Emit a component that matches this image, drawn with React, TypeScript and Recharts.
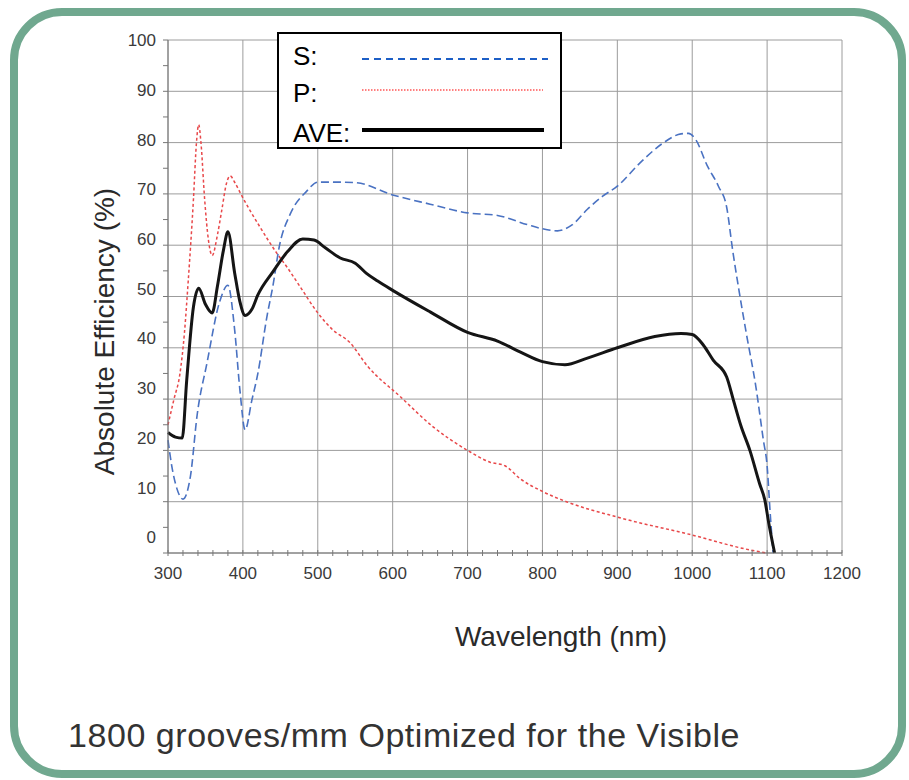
import { LineChart, Line, XAxis, YAxis, CartesianGrid, Legend, Label } from 'recharts';

const W = 909;
const H = 780;

// S polarisation
const sNm = [300, 305, 312, 320, 330, 339, 352, 369, 380, 389, 396, 403, 412, 420, 432, 440, 449, 463, 485, 500, 520, 550, 600, 650, 700, 740, 780, 800, 820, 840, 860, 880, 900, 930, 960, 985, 995, 1005, 1020, 1035, 1046, 1054, 1063, 1072, 1085, 1095, 1100, 1104, 1108];
const sEff = [22, 17, 12.5, 10.5, 15, 27, 37, 49, 52.2, 43.5, 31.8, 24, 29.8, 35, 46, 52, 60, 66, 70.5, 72.3, 72.3, 72.2, 69.8, 68, 66.3, 65.8, 64, 63.2, 62.8, 64, 67, 69.5, 71.5, 76, 79.8, 81.7, 81.8, 80.5, 75.5, 71.5, 67.4, 59, 50.7, 43, 32.4, 22, 17, 8, 0];

// P polarisation
const pNm = [300, 308, 316, 322, 327, 334, 338, 341, 344, 349, 354, 359, 366, 372, 378, 383, 390, 399, 423, 445, 460, 476, 499, 520, 543, 566, 610, 654, 700, 730, 750, 770, 800, 832, 900, 1000, 1077, 1100];
const pEff = [25, 30, 35, 43, 53, 69, 80, 83.5, 80, 68.8, 61, 58, 62, 67, 72, 73.5, 72, 69.5, 63.5, 58.5, 55.5, 52, 47, 43.5, 41, 36.5, 30.5, 24.6, 20, 17.7, 17, 14.5, 12, 10, 7, 3.5, 0.6, 0];

// average of S and P
const aveNm = [300, 310, 319, 325, 334, 341, 350, 359, 366, 374, 380, 389, 396, 403, 412, 420, 440, 460, 480, 495, 510, 530, 550, 565, 580, 600, 650, 700, 740, 770, 800, 830, 860, 900, 950, 985, 1000, 1015, 1028, 1046, 1055, 1065, 1077, 1090, 1097, 1102, 1110];
const aveEff = [23.5, 22.6, 22.4, 33.7, 48, 51.6, 48.5, 46.8, 52, 59, 62.6, 54.6, 49, 46.3, 47.5, 50.3, 54.8, 58.8, 61.2, 61, 59.5, 57.5, 56.5, 54.5, 53, 51.2, 47, 43, 41.3, 39.2, 37.3, 36.7, 38, 40, 42.2, 42.8, 42.6, 40.5, 37.6, 34.3, 29.8, 24.8, 20, 13.5, 10.3, 6, 0];

const xMajor = [300, 400, 500, 600, 700, 800, 900, 1000, 1100, 1200];
const yMajor = [0, 10, 20, 30, 40, 50, 60, 70, 80, 90, 100];
const xTicks = Array.from({ length: 46 }, (_, i) => 300 + i * 20);
const yTicks = Array.from({ length: 21 }, (_, i) => i * 5);

const toPoints = (nm: number[], eff: number[]) => nm.map((w, i) => ({ nm: w, eff: eff[i] }));
const sPoints = toPoints(sNm, sEff);
const pPoints = toPoints(pNm, pEff);
const avePoints = toPoints(aveNm, aveEff);

const FONT = '"Liberation Sans", Arial, Helvetica, sans-serif';
const AXIS = '#777';
const GRID = '#9c9c9c';
const LABEL_DRIFT = 0.158; // y labels creep upward toward the origin

function XTick({ x, y, payload }: any) {
  const v = payload.value;
  return (
    <g>
      <line x1={x} x2={x} y1={y - 3} y2={y + 3} stroke={AXIS} />
      {v % 100 === 0 && (
        <text x={x} y={y + 26} textAnchor="middle" fontSize={17} fill="#3a3a3a" fontFamily={FONT}>
          {v}
        </text>
      )}
    </g>
  );
}

function YTick({ x, y, payload }: any) {
  const v = payload.value;
  return (
    <g>
      <line x1={x - 5} x2={x} y1={y} y2={y} stroke={AXIS} />
      {v % 10 === 0 && (
        <text x={x - 12} y={y - (100 - v) * LABEL_DRIFT} dy="0.36em" textAnchor="end" fontSize={17} fill="#3a3a3a" fontFamily={FONT}>
          {v}
        </text>
      )}
    </g>
  );
}

function LegendBox() {
  return (
    <svg width={285} height={117} style={{ display: 'block' }}>
      <rect x={1} y={1} width={283} height={115} fill="#fff" stroke="#000" strokeWidth={2} />
      <g fontFamily={FONT} fontSize={26} fill="#000">
        <text x={16} y={33}>S:</text>
        <text x={16} y={70}>P:</text>
        <text x={16} y={110}>AVE:</text>
      </g>
      <line x1={85} x2={271} y1={27} y2={27} stroke="#1d5fc6" strokeWidth={2} strokeDasharray="7 5" />
      <line x1={85} x2={266} y1={58} y2={58} stroke="#ff0000" strokeWidth={1.2} strokeDasharray="1.5 1.5" />
      <line x1={85} x2={267} y1={98} y2={98} stroke="#000" strokeWidth={4} />
    </svg>
  );
}

export default function App() {
  return (
    <div style={{ position: 'absolute', left: 0, top: 0, width: W, height: H, background: '#fff', overflow: 'hidden' }}>
      <div
        style={{
          position: 'absolute',
          left: 10,
          top: 8,
          width: 896,
          height: 770,
          border: '8px solid #70a88f',
          borderRadius: 52,
          boxSizing: 'border-box',
        }}
      />
      <div style={{ position: 'absolute', left: 0, top: 0 }}>
        <LineChart width={W} height={H} margin={{ top: 40, left: 167, right: 67, bottom: 226 }}>
          <CartesianGrid stroke={GRID} verticalValues={xMajor} horizontalValues={yMajor} />
          <XAxis
            dataKey="nm"
            type="number"
            domain={[300, 1200]}
            ticks={xTicks}
            interval={0}
            height={1}
            tickSize={0}
            tickMargin={0}
            tickLine={false}
            tick={<XTick />}
            axisLine={{ stroke: AXIS }}
          >
            <Label
              value="Wavelength (nm)"
              position="bottom"
              offset={72}
              dx={56}
              style={{ fontSize: 28, fill: '#2a2a2a', fontFamily: FONT }}
            />
          </XAxis>
          <YAxis
            type="number"
            domain={[0, 100]}
            ticks={yTicks}
            interval={0}
            width={1}
            tickSize={0}
            tickMargin={0}
            tickLine={false}
            tick={<YTick />}
            axisLine={{ stroke: AXIS }}
          >
            <Label
              content={({ viewBox }: any) => {
                const cx = viewBox.x - 63;
                const cy = viewBox.y + viewBox.height / 2 + 35;
                return (
                  <text
                    x={cx}
                    y={cy}
                    transform={`rotate(-90 ${cx} ${cy})`}
                    textAnchor="middle"
                    dominantBaseline="central"
                    fontSize={28}
                    fill="#2a2a2a"
                    fontFamily={FONT}
                  >
                    Absolute Efficiency (%)
                  </text>
                );
              }}
            />
          </YAxis>
          <Legend
            layout="vertical"
            align="center"
            verticalAlign="middle"
            content={() => <LegendBox />}
            wrapperStyle={{ left: 277, top: 32, width: 285, height: 117 }}
          />
          <Line
            data={pPoints}
            dataKey="eff"
            name="P"
            type="monotone"
            stroke="#e8484a"
            strokeWidth={1.5}
            strokeDasharray="3 2.5"
            dot={false}
            activeDot={false}
            isAnimationActive={false}
          />
          <Line
            data={sPoints}
            dataKey="eff"
            name="S"
            type="monotone"
            stroke="#4a72c2"
            strokeWidth={1.6}
            strokeDasharray="8 4"
            dot={false}
            activeDot={false}
            isAnimationActive={false}
          />
          <Line
            data={avePoints}
            dataKey="eff"
            name="AVE"
            type="monotone"
            stroke="#151515"
            strokeWidth={3}
            dot={false}
            activeDot={false}
            isAnimationActive={false}
          />
        </LineChart>
      </div>
      <div
        style={{
          position: 'absolute',
          left: 68,
          top: 718,
          fontFamily: FONT,
          fontSize: 34,
          lineHeight: '34px',
          letterSpacing: 0.55,
          color: '#333',
          whiteSpace: 'nowrap',
        }}
      >
        1800 grooves/mm Optimized for the Visible
      </div>
    </div>
  );
}
